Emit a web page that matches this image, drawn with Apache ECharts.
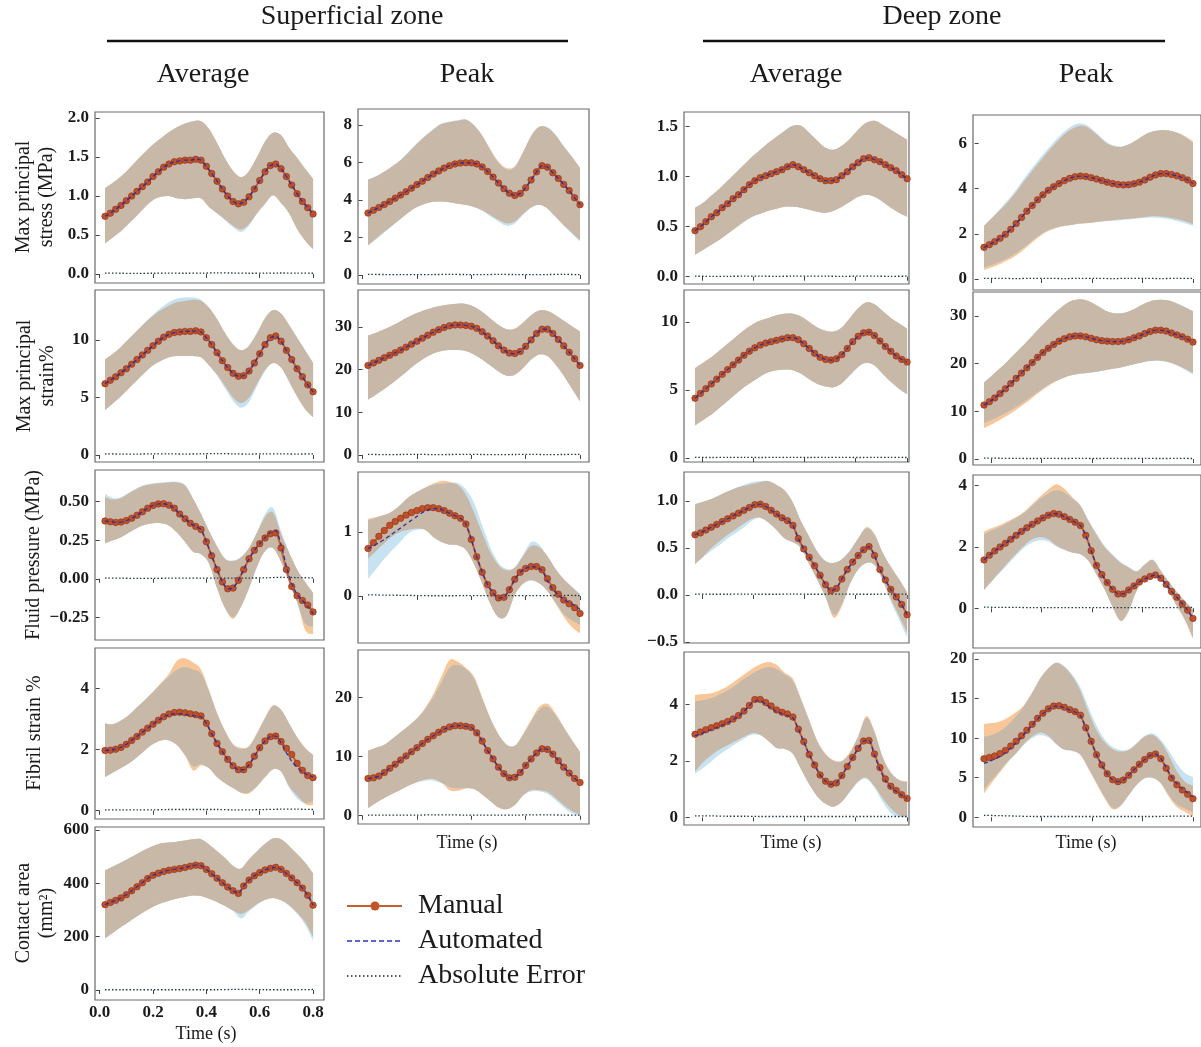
<!DOCTYPE html>
<html>
<head>
<meta charset="utf-8">
<title>Manual vs automated</title>
<script src="https://cdn.jsdelivr.net/npm/echarts@6/dist/echarts.min.js"></script>
<style>
  html, body { margin: 0; padding: 0; background: #fff; }
  #chart { width: 1201px; height: 1047px; }
</style>
</head>
<body>
<div id="chart"></div>
<script>
// sample times (s)
var tMean = [0.02,0.04,0.06,0.08,0.10,0.12,0.14,0.16,0.18,0.20,0.22,0.24,0.26,0.28,0.30,0.32,0.34,0.36,0.38,0.40,
             0.42,0.44,0.46,0.48,0.50,0.52,0.54,0.56,0.58,0.60,0.62,0.64,0.66,0.68,0.70,0.72,0.74,0.76,0.78,0.80];
var tBand = [0.02,0.05,0.08,0.11,0.14,0.17,0.20,0.23,0.26,0.29,0.32,0.35,0.38,0.41,0.44,0.47,0.50,0.53,0.56,0.59,
             0.62,0.65,0.68,0.71,0.74,0.77,0.80];
var tErr = [0.02,0.08,0.14,0.20,0.26,0.32,0.38,0.44,0.50,0.56,0.62,0.68,0.74,0.80];
var sTimeTicks = [0, 0.2, 0.4, 0.6, 0.8];
var dTimeTicks = [0.046, 0.234, 0.423, 0.611, 0.8];

// superficial, average, max principal stress
var saStressMan = [0.74,0.78,0.83,0.88,0.94,1.00,1.06,1.12,1.18,1.25,1.31,1.37,1.41,1.44,1.45,1.46,1.46,1.47,1.46,1.38,1.29,1.19,1.09,1.00,0.93,0.90,0.92,0.99,1.09,1.20,1.31,1.39,1.41,1.35,1.25,1.14,1.03,0.93,0.85,0.77];
var saStressHiO = [1.10,1.17,1.25,1.35,1.46,1.56,1.66,1.74,1.82,1.88,1.93,1.96,1.96,1.86,1.68,1.48,1.32,1.24,1.32,1.50,1.70,1.81,1.78,1.62,1.49,1.35,1.22];
var saStressLoO = [0.39,0.47,0.55,0.65,0.75,0.86,0.95,0.99,1.00,0.97,0.96,0.97,0.97,0.86,0.78,0.70,0.62,0.57,0.64,0.78,0.90,1.01,0.91,0.78,0.58,0.43,0.32];
var saStressLoB = [0.39,0.47,0.55,0.65,0.75,0.86,0.95,0.99,1.00,0.97,0.96,0.97,0.97,0.86,0.78,0.69,0.60,0.54,0.62,0.78,0.90,1.01,0.91,0.78,0.58,0.43,0.32];
var saStressErr = [0.012,0.01,0.009,0.01,0.011,0.01,0.012,0.014,0.013,0.01,0.011,0.013,0.012,0.01];
var saStressTicks = [0, 0.5, 1, 1.5, 2];

// superficial, peak, max principal stress
var spStressMan = [3.30,3.45,3.60,3.76,3.92,4.09,4.26,4.44,4.63,4.82,5.00,5.20,5.38,5.55,5.70,5.83,5.92,5.97,5.99,5.98,5.92,5.76,5.52,5.22,4.90,4.60,4.36,4.24,4.35,4.65,5.07,5.50,5.83,5.75,5.45,5.15,4.83,4.50,4.12,3.75];
var spStressHiO = [5.07,5.25,5.50,5.80,6.12,6.55,7.00,7.40,7.75,8.05,8.15,8.22,8.28,7.98,7.45,6.70,6.05,5.70,5.80,6.55,7.40,7.90,7.85,7.45,6.85,6.30,5.70];
var spStressLoO = [1.60,1.95,2.30,2.65,3.00,3.35,3.62,3.80,3.90,3.92,3.88,3.80,3.75,3.62,3.45,3.20,2.95,2.75,2.85,3.25,3.60,3.75,3.55,3.10,2.65,2.25,1.85];
var spStressHiB = [5.10,5.28,5.52,5.82,6.15,6.58,7.02,7.42,7.78,8.08,8.18,8.25,8.30,7.98,7.42,6.65,5.98,5.62,5.75,6.52,7.40,7.92,7.88,7.48,6.88,6.32,5.72];
var spStressLoB = [1.55,1.90,2.26,2.62,2.98,3.34,3.62,3.80,3.90,3.92,3.88,3.80,3.75,3.62,3.42,3.12,2.85,2.62,2.75,3.20,3.58,3.74,3.55,3.10,2.62,2.20,1.80];
var spStressErr = [0.03,0.025,0.02,0.02,0.025,0.03,0.025,0.02,0.03,0.025,0.02,0.025,0.03,0.02];
var spStressTicks = [0, 2, 4, 6, 8];

// deep, average, max principal stress
var daStressMan = [0.46,0.50,0.55,0.60,0.64,0.69,0.73,0.78,0.82,0.87,0.92,0.96,0.99,1.01,1.03,1.05,1.07,1.10,1.12,1.10,1.07,1.04,1.01,0.98,0.96,0.96,0.97,1.01,1.05,1.10,1.14,1.18,1.19,1.17,1.15,1.12,1.09,1.06,1.02,0.98];
var daStressHiO = [0.69,0.74,0.81,0.88,0.96,1.04,1.12,1.20,1.27,1.34,1.40,1.46,1.51,1.51,1.44,1.36,1.29,1.27,1.31,1.38,1.47,1.54,1.56,1.52,1.47,1.42,1.37];
var daStressLoO = [0.22,0.27,0.32,0.37,0.43,0.49,0.55,0.60,0.63,0.66,0.68,0.70,0.70,0.69,0.67,0.65,0.64,0.66,0.70,0.75,0.80,0.82,0.80,0.75,0.69,0.64,0.60];
var daStressErr = [0.005,0.004,0.004,0.005,0.005,0.004,0.005,0.006,0.005,0.004,0.005,0.005,0.004,0.005];
var daStressTicks = [0, 0.5, 1, 1.5];

// deep, peak, max principal stress
var dpStressMan = [1.40,1.52,1.65,1.80,1.98,2.20,2.45,2.72,3.00,3.25,3.50,3.72,3.92,4.08,4.22,4.35,4.45,4.52,4.55,4.53,4.48,4.42,4.35,4.28,4.22,4.18,4.16,4.17,4.21,4.28,4.38,4.50,4.60,4.66,4.66,4.62,4.56,4.48,4.38,4.22];
var dpStressHiO = [2.35,2.70,3.05,3.42,3.85,4.33,4.79,5.22,5.65,6.05,6.40,6.65,6.78,6.68,6.40,6.08,5.88,5.84,5.95,6.15,6.38,6.52,6.58,6.56,6.48,6.32,6.10];
var dpStressLoO = [0.40,0.52,0.66,0.84,1.04,1.32,1.62,1.90,2.12,2.26,2.34,2.40,2.45,2.48,2.52,2.56,2.60,2.63,2.66,2.70,2.74,2.77,2.76,2.72,2.65,2.55,2.42];
var dpStressHiB = [2.35,2.72,3.10,3.50,3.95,4.45,4.92,5.36,5.78,6.18,6.52,6.78,6.88,6.75,6.45,6.12,5.92,5.86,5.96,6.16,6.38,6.52,6.58,6.56,6.46,6.28,6.02];
var dpStressLoB = [0.50,0.62,0.76,0.93,1.14,1.40,1.70,1.96,2.16,2.28,2.35,2.40,2.45,2.48,2.52,2.55,2.58,2.60,2.63,2.67,2.70,2.72,2.70,2.65,2.56,2.46,2.34];
var dpStressErr = [0.03,0.03,0.02,0.03,0.03,0.02,0.03,0.03,0.02,0.03,0.03,0.02,0.03,0.03];
var dpStressTicks = [0, 2, 4, 6];

// superficial, average, max principal strain %
var saStrainMan = [6.2,6.5,6.8,7.15,7.5,7.9,8.3,8.7,9.1,9.5,9.9,10.25,10.5,10.65,10.7,10.75,10.75,10.8,10.7,10.2,9.6,8.9,8.2,7.6,7.1,6.85,6.9,7.3,8.0,8.8,9.6,10.2,10.35,9.9,9.1,8.3,7.5,6.8,6.1,5.5];
var saStrainHiO = [8.3,8.8,9.4,10.1,10.8,11.5,12.1,12.6,13.0,13.3,13.4,13.5,13.4,12.8,11.8,10.6,9.6,9.1,9.5,10.6,11.9,12.6,12.3,11.3,10.2,9.1,8.0];
var saStrainLoO = [3.9,4.5,5.1,5.8,6.5,7.2,7.8,8.2,8.5,8.6,8.6,8.6,8.5,7.8,7.0,6.0,5.0,4.5,5.0,6.2,7.4,8.0,7.6,6.4,5.1,4.0,3.3];
var saStrainHiB = [8.3,8.8,9.4,10.1,10.8,11.5,12.2,12.8,13.3,13.6,13.7,13.7,13.5,12.8,11.8,10.6,9.6,9.1,9.5,10.6,11.9,12.6,12.3,11.3,10.2,9.1,8.0];
var saStrainLoB = [3.9,4.5,5.1,5.8,6.5,7.2,7.8,8.2,8.5,8.6,8.6,8.6,8.5,7.8,6.9,5.8,4.7,4.1,4.6,6.0,7.3,8.0,7.6,6.4,5.1,4.0,3.3];
var saStrainErr = [0.1,0.08,0.08,0.1,0.1,0.08,0.1,0.12,0.1,0.08,0.1,0.1,0.08,0.1];
var saStrainTicks = [0, 5, 10];

// superficial, peak, max principal strain %
var spStrainMan = [21.0,21.6,22.2,22.8,23.4,24.0,24.6,25.3,26.0,26.7,27.4,28.1,28.8,29.4,29.9,30.3,30.5,30.5,30.4,30.2,29.7,28.9,27.9,26.8,25.6,24.6,23.9,23.8,24.3,25.5,27.0,28.5,29.5,29.5,28.5,27.1,25.6,24.1,22.6,21.0];
var spStrainHiO = [28.0,28.7,29.5,30.4,31.4,32.4,33.3,34.0,34.6,35.0,35.3,35.5,35.4,34.8,33.6,32.0,30.5,29.5,29.6,31.0,32.8,33.9,33.8,32.8,31.5,30.2,29.0];
var spStrainLoO = [13.0,14.2,15.5,16.9,18.4,20.0,21.5,22.8,23.8,24.4,24.6,24.6,24.4,23.6,22.4,21.0,19.6,18.6,18.8,20.4,22.4,23.6,23.2,21.2,18.6,15.6,12.6];
var spStrainErr = [0.15,0.1,0.12,0.15,0.1,0.12,0.15,0.12,0.1,0.12,0.15,0.1,0.12,0.15];
var spStrainTicks = [0, 10, 20, 30];

// deep, average, max principal strain %
var daStrainMan = [4.4,4.75,5.1,5.45,5.8,6.15,6.5,6.85,7.2,7.55,7.85,8.1,8.3,8.45,8.55,8.65,8.75,8.85,8.85,8.7,8.4,8.05,7.7,7.4,7.25,7.2,7.3,7.6,8.05,8.55,8.95,9.2,9.25,9.0,8.6,8.2,7.85,7.5,7.25,7.05];
var daStrainHiO = [6.6,7.0,7.4,7.9,8.4,8.9,9.4,9.8,10.1,10.3,10.5,10.6,10.6,10.4,10.0,9.6,9.35,9.3,9.6,10.3,11.0,11.45,11.3,10.8,10.3,9.9,9.5];
var daStrainLoO = [2.4,2.8,3.2,3.7,4.2,4.7,5.2,5.6,6.0,6.3,6.45,6.5,6.45,6.2,5.8,5.45,5.25,5.2,5.5,6.1,6.7,7.0,6.8,6.2,5.6,5.1,4.7];
var daStrainErr = [0.05,0.04,0.05,0.05,0.04,0.05,0.05,0.04,0.05,0.05,0.04,0.05,0.05,0.04];
var daStrainTicks = [0, 5, 10];

// deep, peak, max principal strain %
var dpStrainMan = [11.3,12.0,12.8,13.7,14.7,15.8,16.9,18.0,19.1,20.2,21.3,22.3,23.2,24.0,24.7,25.2,25.6,25.8,25.8,25.6,25.3,25.0,24.8,24.7,24.6,24.6,24.7,25.0,25.4,25.8,26.3,26.7,27.0,27.0,26.8,26.4,26.0,25.6,25.1,24.5];
var dpStrainHiO = [16.0,17.5,19.0,20.6,22.3,24.0,25.8,27.6,29.3,30.9,32.3,33.2,33.5,33.1,32.2,31.2,30.6,30.5,30.9,31.7,32.6,33.2,33.4,33.2,32.6,31.8,31.0];
var dpStrainLoO = [6.5,7.3,8.2,9.2,10.3,11.5,12.8,14.1,15.3,16.3,17.1,17.6,17.9,18.1,18.3,18.6,18.9,19.2,19.6,20.0,20.4,20.6,20.6,20.3,19.7,18.9,18.0];
var dpStrainLoB = [7.5,8.2,9.0,9.9,10.9,12.0,13.2,14.4,15.5,16.4,17.1,17.6,17.9,18.1,18.3,18.6,18.9,19.2,19.6,20.0,20.4,20.6,20.6,20.3,19.6,18.7,17.7];
var dpStrainErr = [0.2,0.15,0.12,0.1,0.12,0.1,0.12,0.1,0.12,0.1,0.12,0.1,0.12,0.1];
var dpStrainTicks = [0, 10, 20, 30];

// superficial, average, fluid pressure
var saFluidMan = [0.375,0.370,0.366,0.368,0.378,0.393,0.412,0.435,0.458,0.476,0.486,0.487,0.478,0.458,0.420,0.390,0.360,0.340,0.320,0.240,0.150,0.060,-0.020,-0.065,-0.060,-0.010,0.060,0.130,0.185,0.228,0.265,0.292,0.298,0.200,0.060,-0.050,-0.110,-0.140,-0.170,-0.215];
var saFluidAuto = [0.375,0.370,0.366,0.368,0.378,0.393,0.412,0.435,0.458,0.476,0.486,0.487,0.478,0.458,0.420,0.390,0.360,0.340,0.320,0.240,0.150,0.060,-0.020,-0.065,-0.060,-0.010,0.060,0.130,0.185,0.228,0.268,0.300,0.312,0.225,0.080,-0.030,-0.100,-0.140,-0.180,-0.225];
var saFluidHiO = [0.53,0.515,0.525,0.555,0.585,0.605,0.615,0.62,0.625,0.625,0.605,0.52,0.42,0.31,0.21,0.13,0.115,0.14,0.20,0.30,0.40,0.43,0.29,0.17,0.06,-0.02,-0.09];
var saFluidLoO = [0.23,0.25,0.27,0.30,0.33,0.35,0.36,0.36,0.345,0.30,0.24,0.175,0.16,0.10,-0.06,-0.19,-0.26,-0.18,-0.06,0.08,0.18,0.20,0.11,-0.02,-0.15,-0.33,-0.36];
var saFluidHiB = [0.55,0.525,0.53,0.56,0.59,0.61,0.62,0.625,0.63,0.63,0.61,0.52,0.42,0.31,0.21,0.13,0.12,0.14,0.20,0.30,0.42,0.46,0.31,0.17,0.06,-0.02,-0.09];
var saFluidLoB = [0.23,0.25,0.27,0.30,0.33,0.35,0.36,0.36,0.345,0.30,0.24,0.175,0.16,0.10,-0.06,-0.19,-0.25,-0.18,-0.06,0.08,0.18,0.20,0.11,-0.02,-0.15,-0.29,-0.31];
var saFluidErr = [0.005,0.004,0.003,0.003,0.004,0.004,0.004,0.004,0.004,0.005,0.006,0.01,0.008,0.006];
var saFluidTicks = [-0.25, 0, 0.25, 0.5];

// superficial, peak, fluid pressure
var spFluidMan = [0.74,0.83,0.93,1.02,1.10,1.16,1.21,1.26,1.30,1.33,1.36,1.375,1.375,1.36,1.33,1.29,1.25,1.21,1.12,0.88,0.61,0.37,0.18,0.05,-0.03,-0.02,0.10,0.26,0.37,0.43,0.46,0.46,0.41,0.27,0.13,0.03,-0.06,-0.12,-0.18,-0.27];
var spFluidAuto = [0.74,0.78,0.83,0.88,0.94,1.00,1.06,1.12,1.18,1.24,1.30,1.34,1.36,1.36,1.33,1.29,1.25,1.21,1.12,0.88,0.61,0.37,0.18,0.05,-0.03,-0.02,0.10,0.26,0.37,0.43,0.46,0.45,0.40,0.24,0.10,0.02,-0.05,-0.10,-0.15,-0.21];
var spFluidHiO = [1.20,1.23,1.26,1.32,1.42,1.54,1.62,1.69,1.75,1.79,1.78,1.73,1.58,1.30,0.98,0.68,0.48,0.40,0.44,0.62,0.78,0.76,0.62,0.42,0.26,0.14,0.02];
var spFluidLoO = [0.58,0.70,0.82,0.93,1.00,1.03,1.05,1.03,0.92,0.84,0.80,0.79,0.72,0.50,0.20,-0.12,-0.33,-0.30,0.02,0.19,0.25,0.20,0.08,-0.12,-0.32,-0.48,-0.58];
var spFluidHiB = [1.18,1.22,1.26,1.32,1.42,1.54,1.62,1.68,1.73,1.75,1.76,1.76,1.66,1.45,1.10,0.76,0.52,0.42,0.45,0.64,0.84,0.80,0.62,0.42,0.26,0.14,0.04];
var spFluidLoB = [0.27,0.42,0.58,0.72,0.85,0.98,1.03,1.03,0.92,0.84,0.80,0.79,0.72,0.50,0.20,-0.12,-0.33,-0.30,0.02,0.19,0.24,0.20,0.08,-0.10,-0.28,-0.38,-0.45];
var spFluidErr = [0.02,0.015,0.012,0.008,0.005,0.005,0.006,0.006,0.005,0.006,0.006,0.008,0.01,0.008];
var spFluidTicks = [0, 1];

// deep, average, fluid pressure
var daFluidMan = [0.64,0.66,0.69,0.72,0.75,0.78,0.81,0.84,0.87,0.90,0.93,0.96,0.965,0.94,0.90,0.86,0.82,0.79,0.74,0.60,0.49,0.40,0.31,0.21,0.11,0.045,0.07,0.17,0.27,0.35,0.42,0.48,0.515,0.42,0.27,0.16,0.06,-0.02,-0.10,-0.21];
var daFluidHiO = [0.96,0.99,1.02,1.06,1.10,1.135,1.16,1.18,1.20,1.21,1.17,1.11,0.98,0.78,0.62,0.46,0.36,0.34,0.38,0.47,0.60,0.72,0.65,0.45,0.30,0.17,0.03];
var daFluidLoO = [0.33,0.41,0.50,0.57,0.64,0.70,0.76,0.81,0.82,0.77,0.69,0.60,0.56,0.50,0.33,0.16,-0.02,-0.24,-0.12,0.12,0.27,0.34,0.32,0.17,-0.04,-0.22,-0.40];
var daFluidHiB = [0.97,0.99,1.02,1.06,1.10,1.14,1.17,1.20,1.21,1.21,1.17,1.11,0.98,0.78,0.62,0.46,0.36,0.34,0.38,0.47,0.60,0.71,0.64,0.45,0.30,0.17,0.03];
var daFluidLoB = [0.33,0.40,0.47,0.53,0.60,0.66,0.72,0.79,0.82,0.77,0.69,0.60,0.56,0.50,0.33,0.16,-0.02,-0.21,-0.10,0.12,0.27,0.34,0.32,0.15,-0.07,-0.26,-0.45];
var daFluidErr = [0.01,0.008,0.008,0.01,0.008,0.008,0.01,0.008,0.008,0.01,0.008,0.008,0.01,0.008];
var daFluidTicks = [-0.5, 0, 0.5, 1];

// deep, peak, fluid pressure
var dpFluidMan = [1.58,1.73,1.87,2.00,2.12,2.25,2.38,2.51,2.63,2.74,2.85,2.95,3.04,3.09,3.07,2.99,2.90,2.81,2.70,2.38,1.88,1.40,1.10,0.84,0.62,0.47,0.47,0.60,0.73,0.86,0.96,1.04,1.09,0.98,0.78,0.55,0.36,0.15,-0.06,-0.33];
var dpFluidHiO = [2.50,2.62,2.72,2.85,2.98,3.15,3.40,3.65,3.88,4.05,3.90,3.62,3.35,2.85,2.40,2.00,1.72,1.48,1.33,1.20,1.42,1.58,1.22,0.85,0.52,0.22,-0.05];
var dpFluidLoO = [0.60,0.90,1.20,1.50,1.78,2.05,2.25,2.33,2.25,2.05,1.92,1.82,1.76,1.55,1.10,0.62,0.05,-0.42,-0.10,0.58,0.92,1.08,0.96,0.55,0.06,-0.40,-1.00];
var dpFluidHiB = [2.42,2.55,2.66,2.80,2.95,3.12,3.35,3.58,3.75,3.85,3.78,3.58,3.35,2.88,2.44,2.04,1.76,1.52,1.36,1.22,1.44,1.58,1.24,0.88,0.55,0.26,0.00];
var dpFluidLoB = [0.60,0.88,1.16,1.44,1.72,1.98,2.15,2.22,2.18,2.02,1.90,1.81,1.76,1.55,1.10,0.62,0.05,-0.40,-0.08,0.58,0.92,1.08,0.96,0.55,0.08,-0.36,-0.95];
var dpFluidErr = [0.04,0.03,0.03,0.02,0.02,0.02,0.02,0.02,0.02,0.02,0.02,0.02,0.02,0.03];
var dpFluidTicks = [0, 2, 4];

// superficial, average, fibril strain %
var saFibrilMan = [1.97,1.98,2.01,2.07,2.17,2.30,2.43,2.57,2.70,2.83,2.96,3.07,3.16,3.21,3.22,3.20,3.17,3.14,3.10,2.86,2.52,2.20,1.93,1.68,1.47,1.34,1.34,1.50,1.78,2.06,2.28,2.42,2.44,2.26,2.04,1.84,1.55,1.32,1.15,1.08];
var saFibrilAuto = [1.97,1.98,2.01,2.07,2.17,2.30,2.43,2.57,2.70,2.83,2.96,3.07,3.14,3.17,3.17,3.15,3.12,3.10,3.07,2.86,2.52,2.20,1.93,1.68,1.47,1.34,1.34,1.50,1.78,2.06,2.28,2.42,2.44,2.22,1.90,1.62,1.42,1.27,1.17,1.10];
var saFibrilHiO = [2.85,2.83,2.95,3.13,3.38,3.62,3.88,4.18,4.48,4.90,4.98,4.85,4.62,3.95,3.20,2.62,2.18,2.06,2.12,2.55,3.05,3.45,3.30,2.85,2.40,2.05,1.82];
var saFibrilLoO = [1.10,1.25,1.40,1.55,1.75,1.98,2.18,2.30,2.30,2.15,1.80,1.32,1.48,1.38,1.10,0.90,0.74,0.58,0.56,0.80,1.10,1.36,1.28,0.80,0.50,0.22,0.18];
var saFibrilHiB = [2.85,2.83,2.95,3.13,3.38,3.62,3.88,4.15,4.40,4.62,4.70,4.62,4.48,3.90,3.18,2.60,2.16,2.02,2.10,2.52,3.02,3.42,3.30,2.85,2.40,2.05,1.82];
var saFibrilLoB = [1.10,1.25,1.40,1.55,1.75,1.98,2.18,2.30,2.30,2.15,1.82,1.45,1.52,1.40,1.10,0.90,0.74,0.60,0.60,0.80,1.10,1.36,1.28,0.75,0.40,0.25,0.30];
var saFibrilErr = [0.03,0.03,0.03,0.03,0.04,0.04,0.04,0.04,0.03,0.03,0.04,0.05,0.05,0.04];
var saFibrilTicks = [0, 2, 4];

// superficial, peak, fibril strain %
var spFibrilMan = [6.3,6.4,6.7,7.3,8.0,8.7,9.4,10.1,10.8,11.5,12.2,12.9,13.5,14.1,14.6,15.0,15.2,15.2,15.1,14.9,14.0,12.6,11.0,9.6,8.2,7.1,6.4,6.5,7.3,8.5,9.6,10.6,11.3,11.2,10.4,9.3,8.2,7.2,6.3,5.6];
var spFibrilHiO = [11.0,11.5,12.0,13.0,14.1,15.2,16.4,18.2,20.5,23.5,26.3,26.0,25.0,23.5,20.0,16.5,13.7,12.0,11.8,13.8,16.2,18.4,18.9,17.3,15.0,12.8,10.8];
var spFibrilLoO = [1.3,2.2,3.0,3.7,4.4,5.1,5.7,6.1,6.2,5.6,4.3,4.2,4.6,4.5,3.6,2.5,1.4,1.1,1.8,3.4,4.3,4.3,4.0,3.0,1.8,0.8,0.2];
var spFibrilHiB = [11.0,11.5,12.0,13.0,14.1,15.2,16.4,18.0,20.0,22.5,25.0,25.5,24.8,23.2,19.8,16.4,13.7,12.0,11.8,13.6,15.9,17.9,18.4,17.0,14.9,12.8,10.8];
var spFibrilLoB = [1.3,2.2,3.0,3.7,4.4,5.1,5.6,5.9,5.9,5.5,4.8,4.6,4.7,4.5,3.6,2.5,1.4,1.1,1.8,3.4,4.1,4.1,3.7,2.6,1.4,0.4,0.0];
var spFibrilErr = [0.1,0.1,0.1,0.1,0.15,0.15,0.1,0.1,0.1,0.1,0.15,0.15,0.1,0.1];
var spFibrilTicks = [0, 10, 20];

// deep, average, fibril strain %
var daFibrilMan = [2.94,3.02,3.10,3.17,3.24,3.31,3.39,3.48,3.60,3.76,3.96,4.17,4.17,4.06,3.94,3.80,3.72,3.66,3.55,3.12,2.68,2.22,1.85,1.50,1.28,1.17,1.22,1.48,1.80,2.12,2.44,2.70,2.72,2.24,1.76,1.36,1.10,0.95,0.80,0.67];
var daFibrilAuto = [2.88,2.95,3.03,3.10,3.18,3.26,3.35,3.45,3.58,3.75,3.95,4.12,4.12,4.00,3.86,3.74,3.67,3.60,3.52,3.12,2.68,2.22,1.85,1.50,1.28,1.17,1.22,1.48,1.80,2.12,2.44,2.70,2.72,2.20,1.70,1.30,1.05,0.92,0.78,0.66];
var daFibrilHiO = [4.33,4.36,4.39,4.50,4.64,4.84,5.05,5.26,5.42,5.50,5.40,5.12,4.90,4.20,3.45,2.70,2.25,2.02,2.00,2.32,2.88,3.58,3.05,2.15,1.60,1.33,1.26];
var daFibrilLoO = [1.62,1.95,2.20,2.40,2.55,2.70,2.85,2.98,2.92,2.70,2.45,2.42,2.25,1.70,1.17,0.74,0.48,0.38,0.55,0.92,1.28,1.40,1.10,0.68,0.32,0.08,0.02];
var daFibrilHiB = [4.10,4.15,4.22,4.35,4.50,4.68,4.90,5.08,5.24,5.32,5.26,5.05,4.82,4.15,3.42,2.68,2.23,2.00,1.98,2.28,2.84,3.52,3.02,2.12,1.58,1.32,1.25];
var daFibrilLoB = [1.55,1.75,1.98,2.22,2.42,2.60,2.78,2.92,2.90,2.70,2.45,2.42,2.25,1.70,1.17,0.74,0.48,0.38,0.55,0.90,1.24,1.36,1.05,0.55,0.15,0.02,0.00];
var daFibrilErr = [0.05,0.05,0.04,0.04,0.03,0.03,0.03,0.03,0.03,0.03,0.03,0.03,0.03,0.03];
var daFibrilTicks = [0, 2, 4];

// deep, peak, fibril strain %
var dpFibrilMan = [7.4,7.55,7.75,8.05,8.45,9.0,9.6,10.3,11.0,11.75,12.5,13.15,13.7,14.05,14.1,13.9,13.6,13.35,12.9,11.3,9.6,7.9,6.6,5.5,4.75,4.5,4.7,5.3,6.0,6.7,7.3,7.8,8.0,7.4,6.2,4.95,4.1,3.45,2.9,2.35];
var dpFibrilAuto = [6.8,7.05,7.35,7.7,8.15,8.75,9.4,10.1,10.85,11.65,12.4,13.1,13.65,14.0,14.05,13.85,13.55,13.3,12.85,11.3,9.6,7.9,6.6,5.5,4.75,4.5,4.7,5.3,6.0,6.7,7.3,7.8,8.0,7.45,6.3,5.1,4.25,3.6,3.1,2.6];
var dpFibrilHiO = [11.8,11.9,12.1,12.6,13.3,14.2,15.8,17.6,18.8,19.5,19.0,17.8,16.0,13.3,11.0,9.5,8.6,8.3,8.5,9.3,10.2,10.4,9.5,7.8,5.8,4.5,4.0];
var dpFibrilLoO = [3.0,4.4,5.7,7.0,8.1,9.3,10.2,10.7,10.3,9.3,8.55,8.4,7.9,6.1,4.2,2.4,1.0,1.4,2.8,4.1,4.95,5.0,4.3,2.6,1.3,0.7,0.1];
var dpFibrilHiB = [10.2,10.4,10.9,11.7,12.8,14.1,15.7,17.5,18.8,19.6,19.1,18.0,16.4,13.9,11.6,9.9,8.9,8.5,8.6,9.4,10.3,10.6,9.8,8.4,6.8,5.6,5.1];
var dpFibrilLoB = [3.5,4.7,5.9,7.1,8.1,9.2,10.0,10.4,10.1,9.2,8.5,8.35,7.9,6.2,4.4,2.6,1.2,1.5,2.8,4.1,4.9,4.95,4.3,2.8,1.6,1.1,0.6];
var dpFibrilErr = [0.25,0.2,0.15,0.1,0.1,0.1,0.1,0.1,0.1,0.1,0.1,0.1,0.15,0.15];
var dpFibrilTicks = [0, 5, 10, 15, 20];

// superficial, average, contact area (mm2)
var saContactMan = [320,328,336,345,357,372,387,402,418,430,438,444,449,452,455,459,464,468,466,452,436,419,402,386,372,362,390,412,428,440,450,456,460,452,437,420,402,382,355,318];
var saContactHiO = [448,463,478,494,510,526,540,550,553,556,560,565,565,545,520,495,465,455,490,520,548,568,565,540,510,478,437];
var saContactLoO = [194,215,236,256,276,295,312,325,335,343,349,354,352,342,330,315,298,285,300,322,338,345,336,318,290,255,200];
var saContactLoB = [194,215,236,256,276,295,312,325,335,343,349,354,352,342,330,315,296,268,295,320,338,345,336,316,286,245,185];
var saContactErr = [1,1,1,1,1,1,1,1,2,2,1,1,1,2];
var saContactTicks = [0, 200, 400, 600];

var FONT = '"Liberation Serif", "Times New Roman", serif';
var ORANGE = '#f9c698';
var BLUE = '#c7e3f2';
var BROWN = '#c8b8a7';

// panel frames: left edge, width and time range of each column
var cols = [
  { left: 95, width: 229, min: -0.0175, max: 0.841, ticks: sTimeTicks },
  { left: 358, width: 231, min: -0.0168, max: 0.833, ticks: sTimeTicks },
  { left: 684, width: 225, min: -0.0205, max: 0.807, ticks: dTimeTicks },
  { left: 973, width: 228, min: -0.021, max: 0.830, ticks: dTimeTicks }
];

var panels = [
  { col: 0, top: 112, bottom: 283, y: [-0.115, 2.077], ticks: saStressTicks, dec: 1, man: saStressMan, auto: saStressMan, hiO: saStressHiO, loO: saStressLoO, hiB: saStressHiO, loB: saStressLoB, err: saStressErr },
  { col: 1, top: 109, bottom: 284, y: [-0.48, 8.85], ticks: spStressTicks, dec: 0, man: spStressMan, auto: spStressMan, hiO: spStressHiO, loO: spStressLoO, hiB: spStressHiB, loB: spStressLoB, err: spStressErr },
  { col: 2, top: 112, bottom: 284, y: [-0.073, 1.647], ticks: daStressTicks, dec: 1, man: daStressMan, auto: daStressMan, hiO: daStressHiO, loO: daStressLoO, hiB: daStressHiO, loB: daStressLoO, err: daStressErr },
  { col: 3, top: 115, bottom: 290, y: [-0.485, 7.25], ticks: dpStressTicks, dec: 0, man: dpStressMan, auto: dpStressMan, hiO: dpStressHiO, loO: dpStressLoO, hiB: dpStressHiB, loB: dpStressLoB, err: dpStressErr },

  { col: 0, top: 290, bottom: 462, y: [-0.61, 14.35], ticks: saStrainTicks, dec: 0, man: saStrainMan, auto: saStrainMan, hiO: saStrainHiO, loO: saStrainLoO, hiB: saStrainHiB, loB: saStrainLoB, err: saStrainErr },
  { col: 1, top: 290, bottom: 462, y: [-1.64, 38.7], ticks: spStrainTicks, dec: 0, man: spStrainMan, auto: spStrainMan, hiO: spStrainHiO, loO: spStrainLoO, hiB: spStrainHiO, loB: spStrainLoO, err: spStrainErr },
  { col: 2, top: 290, bottom: 462, y: [-0.29, 12.35], ticks: daStrainTicks, dec: 0, man: daStrainMan, auto: daStrainMan, hiO: daStrainHiO, loO: daStrainLoO, hiB: daStrainHiO, loB: daStrainLoO, err: daStrainErr },
  { col: 3, top: 292, bottom: 465, y: [-1.26, 35.0], ticks: dpStrainTicks, dec: 0, man: dpStrainMan, auto: dpStrainMan, hiO: dpStrainHiO, loO: dpStrainLoO, hiB: dpStrainHiO, loB: dpStrainLoB, err: dpStrainErr },

  { col: 0, top: 470, bottom: 640, y: [-0.397, 0.706], ticks: saFluidTicks, dec: 2, man: saFluidMan, auto: saFluidAuto, hiO: saFluidHiO, loO: saFluidLoO, hiB: saFluidHiB, loB: saFluidLoB, err: saFluidErr },
  { col: 1, top: 472, bottom: 643, y: [-0.73, 1.93], ticks: spFluidTicks, dec: 0, man: spFluidMan, auto: spFluidAuto, hiO: spFluidHiO, loO: spFluidLoO, hiB: spFluidHiB, loB: spFluidLoB, err: spFluidErr },
  { col: 2, top: 472, bottom: 643, y: [-0.51, 1.307], ticks: daFluidTicks, dec: 1, man: daFluidMan, auto: daFluidMan, hiO: daFluidHiO, loO: daFluidLoO, hiB: daFluidHiB, loB: daFluidLoB, err: daFluidErr },
  { col: 3, top: 475, bottom: 648, y: [-1.295, 4.35], ticks: dpFluidTicks, dec: 0, man: dpFluidMan, auto: dpFluidMan, hiO: dpFluidHiO, loO: dpFluidLoO, hiB: dpFluidHiB, loB: dpFluidLoB, err: dpFluidErr },

  { col: 0, top: 648, bottom: 819, y: [-0.27, 5.32], ticks: saFibrilTicks, dec: 0, man: saFibrilMan, auto: saFibrilAuto, hiO: saFibrilHiO, loO: saFibrilLoO, hiB: saFibrilHiB, loB: saFibrilLoB, err: saFibrilErr },
  { col: 1, top: 650, bottom: 824, y: [-1.4, 27.99], ticks: spFibrilTicks, dec: 0, man: spFibrilMan, auto: spFibrilMan, hiO: spFibrilHiO, loO: spFibrilLoO, hiB: spFibrilHiB, loB: spFibrilLoB, err: spFibrilErr },
  { col: 2, top: 652, bottom: 825, y: [-0.27, 5.85], ticks: daFibrilTicks, dec: 0, man: daFibrilMan, auto: daFibrilAuto, hiO: daFibrilHiO, loO: daFibrilLoO, hiB: daFibrilHiB, loB: daFibrilLoB, err: daFibrilErr },
  { col: 3, top: 653, bottom: 827, y: [-1.23, 20.76], ticks: dpFibrilTicks, dec: 0, man: dpFibrilMan, auto: dpFibrilAuto, hiO: dpFibrilHiO, loO: dpFibrilLoO, hiB: dpFibrilHiB, loB: dpFibrilLoB, err: dpFibrilErr },

  { col: 0, top: 827, bottom: 1000, y: [-37.5, 611], ticks: saContactTicks, dec: 0, man: saContactMan, auto: saContactMan, hiO: saContactHiO, loO: saContactLoO, hiB: saContactHiO, loB: saContactLoB, err: saContactErr, timeLabels: true }
];

function pairs(xs, ys) {
  return xs.map(function (x, i) { return [x, ys[i]]; });
}

// smooth path through projected points (Catmull-Rom as cubic Beziers)
function curvePath(pts, start) {
  var d = (start ? 'M' : 'L') + pts[0][0] + ',' + pts[0][1];
  for (var i = 0; i < pts.length - 1; i++) {
    var p0 = pts[Math.max(i - 1, 0)], p1 = pts[i], p2 = pts[i + 1], p3 = pts[Math.min(i + 2, pts.length - 1)];
    d += 'C' + (p1[0] + (p2[0] - p0[0]) / 6) + ',' + (p1[1] + (p2[1] - p0[1]) / 6) + ',' +
         (p2[0] - (p3[0] - p1[0]) / 6) + ',' + (p2[1] - (p3[1] - p1[1]) / 6) + ',' +
         p2[0] + ',' + p2[1];
  }
  return d;
}

// shaded range between lower and upper edges
function band(idx, lo, hi, color, z) {
  return {
    type: 'custom', xAxisIndex: idx, yAxisIndex: idx, z: z, silent: true, clip: true,
    data: [[tBand[0], lo[0]]],
    encode: { x: 0, y: 1 },
    renderItem: function (params, api) {
      var top = tBand.map(function (t, k) { return api.coord([t, hi[k]]); });
      var bot = tBand.map(function (t, k) { return api.coord([t, lo[k]]); }).reverse();
      return {
        type: 'path',
        shape: { pathData: curvePath(top, true) + curvePath(bot, false) + 'Z' },
        style: { fill: color, stroke: null }
      };
    }
  };
}

var grids = [], xAxes = [], yAxes = [], series = [];

panels.forEach(function (p, i) {
  var c = cols[p.col];
  grids.push({
    left: c.left, width: c.width, top: p.top, height: p.bottom - p.top,
    show: true, borderColor: '#6a6a6a', borderWidth: 1.2, backgroundColor: '#fff'
  });
  xAxes.push({
    type: 'value', gridIndex: i, min: c.min, max: c.max,
    axisLine: { show: false }, splitLine: { show: false },
    axisTick: { show: true, length: 4, customValues: c.ticks, lineStyle: { color: '#444' } },
    axisLabel: {
      show: !!p.timeLabels, customValues: c.ticks, margin: 4,
      fontFamily: FONT, fontWeight: 'bold', fontSize: 17, color: '#1a1a1a',
      formatter: function (v) { return v.toFixed(1); }
    }
  });
  yAxes.push({
    type: 'value', gridIndex: i, min: p.y[0], max: p.y[1],
    axisLine: { show: false }, splitLine: { show: false },
    axisTick: { show: true, length: 4, customValues: p.ticks, lineStyle: { color: '#444' } },
    axisLabel: {
      customValues: p.ticks, margin: 6,
      fontFamily: FONT, fontWeight: 'bold', fontSize: 17, color: '#1a1a1a',
      formatter: function (v) { return v.toFixed(p.dec).replace('-', '\u2212'); }
    }
  });

  var ovLo = p.loO.map(function (v, k) { return Math.max(v, p.loB[k]); });
  var ovHi = p.hiO.map(function (v, k) { return Math.min(v, p.hiB[k]); });
  series.push(band(i, p.loO, p.hiO, ORANGE, 1));
  series.push(band(i, p.loB, p.hiB, BLUE, 2));
  series.push(band(i, ovLo, ovHi, BROWN, 3));

  series.push({
    name: 'Absolute Error', type: 'line', xAxisIndex: i, yAxisIndex: i, z: 4, silent: true,
    data: pairs(tErr, p.err), smooth: 0.3, symbol: 'none',
    lineStyle: { color: '#1d3a42', width: 1.3, type: [1.5, 2] }
  });
  series.push({
    name: 'Manual', type: 'line', xAxisIndex: i, yAxisIndex: i, z: 5, silent: true,
    data: pairs(tMean, p.man), smooth: 0.2, symbol: 'circle', symbolSize: 6.5,
    itemStyle: { color: '#c0502a', borderColor: '#8a3316', borderWidth: 0.6 },
    lineStyle: { color: '#cd5e2e', width: 2 }
  });
  series.push({
    name: 'Automated', type: 'line', xAxisIndex: i, yAxisIndex: i, z: 6, silent: true,
    data: pairs(tMean, p.auto), smooth: 0.2, symbol: 'none',
    lineStyle: { color: '#2c2f9c', width: 1.3, type: [4, 3] }
  });
});

function label(text, x, y, size, extra) {
  var el = {
    type: 'text', x: x, y: y, silent: true,
    style: {
      text: text, font: size + 'px ' + FONT, fill: '#1a1a1a',
      textAlign: 'center', align: 'center', textVerticalAlign: 'middle', verticalAlign: 'middle'
    }
  };
  return Object.assign(el, extra || {});
}

function sideName(text, x, y) {
  var el = label(text, x, y, 20, { rotation: Math.PI / 2 });
  el.style.lineHeight = 23;
  return el;
}

var graphics = [
  label('Superficial zone', 352, 17, 28),
  label('Deep zone', 942, 17, 28),
  { type: 'line', silent: true, shape: { x1: 107, y1: 41, x2: 568, y2: 41 }, style: { stroke: '#111', lineWidth: 2.5 } },
  { type: 'line', silent: true, shape: { x1: 703, y1: 41, x2: 1165, y2: 41 }, style: { stroke: '#111', lineWidth: 2.5 } },
  label('Average', 203, 75, 28),
  label('Peak', 467, 75, 28),
  label('Average', 796, 75, 28),
  label('Peak', 1086, 75, 28),
  sideName('Max principal\nstress (MPa)', 35, 197),
  sideName('Max principal\nstrain%', 36, 376),
  sideName('Fluid pressure (MPa)', 34, 555),
  sideName('Fibril strain %', 35, 733),
  sideName('Contact area\n(mm\u00b2)', 35, 913),
  label('Time (s)', 206, 1034, 18),
  label('Time (s)', 467, 843, 18),
  label('Time (s)', 791, 843, 18),
  label('Time (s)', 1086, 843, 18),
  // legend
  { type: 'line', silent: true, shape: { x1: 347, y1: 906, x2: 402, y2: 906 }, style: { stroke: '#c8602e', lineWidth: 2 } },
  { type: 'circle', silent: true, shape: { cx: 375, cy: 906, r: 4.5 }, style: { fill: '#c4532a' } },
  { type: 'line', silent: true, shape: { x1: 347, y1: 941, x2: 402, y2: 941 }, style: { stroke: '#2c35b0', lineWidth: 1.6, lineDash: [5, 3] } },
  { type: 'line', silent: true, shape: { x1: 347, y1: 976, x2: 402, y2: 976 }, style: { stroke: '#222', lineWidth: 1.6, lineDash: [1.5, 2.5] } },
  label('Manual', 418, 906, 28, {}),
  label('Automated', 418, 941, 28, {}),
  label('Absolute Error', 418, 976, 28, {})
];
graphics.slice(-3).forEach(function (g) { g.style.textAlign = 'left'; g.style.align = 'left'; });

var chart = echarts.init(document.getElementById('chart'), null, { renderer: 'canvas' });
chart.setOption({
  animation: false,
  backgroundColor: '#fff',
  grid: grids,
  xAxis: xAxes,
  yAxis: yAxes,
  series: series,
  graphic: { elements: graphics }
});
</script>
</body>
</html>
